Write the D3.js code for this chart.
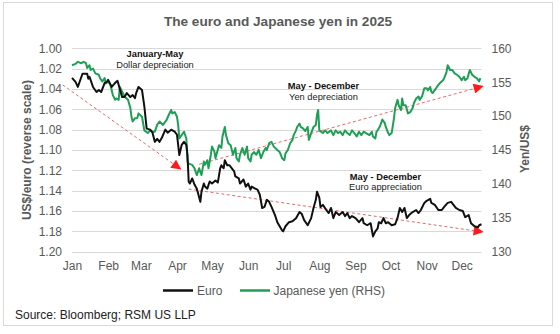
<!DOCTYPE html>
<html><head><meta charset="utf-8">
<script src="https://cdn.jsdelivr.net/npm/d3@7"></script>
<style>
html,body{margin:0;padding:0;background:#fff;}
svg{display:block;font-family:"Liberation Sans",Arial,sans-serif;}
</style></head>
<body><svg id="c" width="560" height="334"></svg>
<script>
const title = "The euro and Japanese yen in 2025";
const monthLabels = ["Jan","Feb","Mar","Apr","May","Jun","Jul","Aug","Sep","Oct","Nov","Dec"];
const leftTicks = [1.00,1.02,1.04,1.06,1.08,1.10,1.12,1.14,1.16,1.18,1.20];
const rightTicks = [160,155,150,145,140,135,130];

const euroDates = ["01-01","01-04","01-06","01-10","01-14","01-15","01-16","01-19","01-22","01-24","01-26","01-29","01-31",
"02-01","02-04","02-07","02-09","02-13","02-15","02-17","02-20","02-22","02-24","02-25","02-27",
"03-02","03-04","03-06","03-09","03-11","03-13","03-15","03-17","03-19","03-22","03-24","03-27","03-30",
"04-01","04-03","04-05","04-07","04-09","04-10","04-11","04-12","04-14","04-16","04-18","04-21","04-22","04-24","04-25","04-27","04-29",
"05-01","05-04","05-06","05-08","05-09","05-11","05-12","05-14","05-16","05-18","05-20","05-21","05-24","05-25","05-28","05-30",
"06-01","06-03","06-04","06-07","06-09","06-11","06-13","06-15","06-17","06-19","06-21","06-24","06-26","06-28","06-30",
"07-01","07-03","07-06","07-09","07-12","07-15","07-17","07-19","07-22","07-25","07-27","07-29","07-30",
"08-01","08-02","08-04","08-07","08-09","08-11","08-13","08-15","08-18","08-21","08-23","08-25","08-27","08-29",
"09-01","09-04","09-07","09-08","09-11","09-14","09-16","09-18","09-20","09-21","09-23","09-25","09-27","09-29",
"10-02","10-05","10-07","10-09","10-11","10-13","10-15","10-17","10-20","10-23","10-25","10-27","10-30",
"11-01","11-04","11-05","11-08","11-11","11-14","11-16","11-19","11-22","11-24","11-26","11-29",
"12-02","12-04","12-07","12-09","12-12","12-15","12-16","12-18"];
const euroValues = [1.029,1.033,1.038,1.025,1.025,1.030,1.028,1.038,1.043,1.041,1.043,1.034,1.033,
1.031,1.038,1.034,1.032,1.048,1.048,1.044,1.048,1.046,1.049,1.044,1.038,
1.041,1.057,1.079,1.080,1.083,1.092,1.089,1.092,1.088,1.080,1.083,1.080,1.082,
1.085,1.105,1.095,1.092,1.095,1.105,1.131,1.133,1.128,1.134,1.138,1.151,1.141,1.133,1.136,1.138,1.131,
1.133,1.130,1.132,1.118,1.115,1.118,1.110,1.115,1.115,1.118,1.121,1.126,1.128,1.133,1.129,1.136,
1.133,1.139,1.136,1.138,1.139,1.144,1.157,1.156,1.149,1.151,1.156,1.164,1.171,1.175,1.179,
1.180,1.175,1.171,1.170,1.167,1.161,1.163,1.169,1.174,1.167,1.157,1.149,1.141,
1.147,1.156,1.154,1.159,1.162,1.157,1.167,1.161,1.164,1.161,1.165,1.162,1.167,1.165,
1.167,1.171,1.167,1.172,1.174,1.172,1.185,1.180,1.177,1.171,1.172,1.167,1.172,1.171,
1.174,1.173,1.167,1.157,1.161,1.157,1.167,1.164,1.161,1.159,1.162,1.159,1.152,
1.150,1.148,1.152,1.154,1.159,1.159,1.156,1.152,1.151,1.154,1.157,1.159,
1.160,1.166,1.164,1.172,1.175,1.176,1.174,1.173];

const yenDates = ["01-01","01-04","01-06","01-09","01-11","01-13","01-14","01-16","01-17","01-19","01-21","01-24","01-25","01-27","01-29","01-30",
"02-01","02-03","02-05","02-07","02-08","02-10","02-11","02-13","02-15","02-18","02-20","02-21","02-22","02-24","02-26","02-27",
"03-02","03-04","03-07","03-09","03-11","03-13","03-15","03-17","03-20","03-23","03-25","03-27","03-28","03-30",
"04-01","04-02","04-03","04-05","04-07","04-09","04-10","04-11","04-14","04-16","04-18","04-20","04-22","04-24","04-25","04-27","04-28","04-30",
"05-01","05-03","05-04","05-07","05-09","05-10","05-12","05-13","05-15","05-17","05-19","05-21","05-22","05-24","05-25","05-27","05-29","05-31",
"06-01","06-03","06-04","06-06","06-08","06-10","06-12","06-14","06-16","06-17","06-19","06-21","06-23","06-26","06-28","06-29","06-30",
"07-02","07-03","07-05","07-07","07-09","07-10","07-12","07-13","07-15","07-16","07-18","07-20","07-22","07-23","07-25","07-27","07-29","07-30","07-31",
"08-01","08-04","08-06","08-08","08-11","08-13","08-15","08-17","08-19","08-21","08-23","08-25","08-27","08-29","08-31",
"09-02","09-04","09-06","09-08","09-10","09-13","09-15","09-16","09-18","09-19","09-20","09-22","09-24","09-26","09-27","09-29","09-30",
"10-02","10-04","10-05","10-07","10-08","10-10","10-11","10-12","10-14","10-16","10-18","10-20","10-21","10-23","10-25","10-26","10-28","10-30",
"11-01","11-02","11-04","11-05","11-06","11-09","11-11","11-12","11-15","11-16","11-18","11-19","11-20","11-21","11-23","11-25","11-27","11-29",
"12-01","12-03","12-04","12-06","12-08","12-10","12-12","12-14","12-16","12-17"];
const yenValues = [157.5,157.7,158.0,157.8,158.0,157.8,157.1,157.5,156.8,157.0,156.3,156.1,155.6,155.1,155.6,154.8,
155.1,154.6,153.1,152.4,152.6,152.4,154.3,153.6,152.9,152.4,151.2,149.9,149.2,149.7,149.7,150.4,
149.9,147.9,147.5,147.9,147.7,147.7,148.7,149.2,148.7,149.4,150.2,150.9,150.4,150.6,
149.9,148.7,146.7,147.2,147.7,146.7,143.3,143.0,142.8,142.3,141.3,142.3,141.3,143.3,142.8,143.5,142.3,144.3,
145.5,144.8,143.8,145.7,145.3,147.0,148.4,147.2,146.0,145.7,144.3,145.3,143.8,143.3,144.3,145.3,144.3,145.5,
143.8,143.3,144.3,144.7,144.3,145.0,143.8,144.7,145.3,145.0,146.0,146.2,145.5,145.0,144.7,144.3,143.8,
143.5,144.5,145.0,146.0,146.5,147.2,147.9,148.4,148.9,148.4,148.2,147.8,148.4,146.5,147.5,148.4,148.7,150.2,150.9,
147.9,147.5,147.9,147.5,147.9,147.2,147.9,147.5,147.7,147.2,147.9,147.5,147.2,147.9,147.5,
147.0,147.7,147.2,147.7,147.5,147.2,147.7,147.0,146.7,147.7,147.9,148.5,149.5,149.0,148.4,147.5,147.2,
147.5,149.7,151.2,152.4,151.6,150.9,152.6,151.6,151.6,150.4,150.6,151.2,151.9,152.6,152.9,152.4,152.9,154.1,
154.1,153.8,154.3,153.6,153.4,154.1,154.6,154.8,155.3,155.6,156.5,157.5,157.2,156.8,156.8,156.3,156.1,155.8,
155.3,155.8,155.3,155.6,156.8,156.1,155.8,155.6,155.1,155.6];

// trend annotation arrows: [start date, start value, end date, end value]
const arrowEuroJanMay = ["2024-12-24", 1.036, "2025-04-04", 1.1187];
const arrowYenMayDec = ["2025-04-20", 142.9, "2025-12-19", 154.4];
const arrowEuroMayDec = ["2025-04-11", 1.1384, "2025-12-19", 1.1806];

const legendItems = ["Euro","Japanese yen (RHS)"];
const sourceText = "Source: Bloomberg; RSM US LLP";

const parse = d3.timeParse("%Y-%m-%d");
const euro = euroDates.map((d,i)=>({date:parse("2025-"+d), v:euroValues[i]}));
const yen = yenDates.map((d,i)=>({date:parse("2025-"+d), v:yenValues[i]}));

const svg = d3.select("#c");
const gray = "#595959";
const euroColor = "#111111";
const yenColor = "#1f9f55";
const red = "#ff1a1a";

svg.append("rect").attr("x",3.5).attr("y",2.5).attr("width",549).attr("height",323)
  .attr("fill","#fff").attr("stroke","#d9d9d9").attr("stroke-width",1);

const x = d3.scaleTime().domain([parse("2025-01-01"), parse("2025-12-18")]).range([72, 481.5]);
const yL = d3.scaleLinear().domain([1.00, 1.20]).range([48.3, 251.7]);
const yR = d3.scaleLinear().domain([160, 130]).range([48.3, 251.7]);

svg.append("text").attr("x",278).attr("y",26).attr("text-anchor","middle")
  .attr("font-size",13.6).attr("font-weight","bold").attr("fill",gray).text(title);

// gridlines
svg.append("g").selectAll("line").data(leftTicks).join("line")
  .attr("x1",72).attr("x2",481.5)
  .attr("y1",d=>Math.round(yL(d))+0.5).attr("y2",d=>Math.round(yL(d))+0.5)
  .attr("stroke","#d9d9d9").attr("stroke-width",1);

// left axis
const gL = svg.append("g").attr("transform","translate(72,0)")
  .call(d3.axisLeft(yL).tickValues(leftTicks).tickFormat(d3.format(".2f")).tickSize(0).tickPadding(10));
gL.select(".domain").remove();
gL.selectAll("text").attr("font-size",12).attr("fill",gray).attr("font-family","Liberation Sans, Arial, sans-serif");

// right axis
const gR = svg.append("g").attr("transform","translate(481.5,0)")
  .call(d3.axisRight(yR).tickValues(rightTicks).tickSize(0).tickPadding(10));
gR.select(".domain").remove();
gR.selectAll("text").attr("font-size",12).attr("fill",gray).attr("font-family","Liberation Sans, Arial, sans-serif");

// x axis
const monthStarts = monthLabels.map((m,i)=>new Date(2025,i,1));
const gX = svg.append("g").attr("transform","translate(0,251.7)")
  .call(d3.axisBottom(x).tickValues(monthStarts).tickFormat((d,i)=>monthLabels[i]).tickSize(0).tickPadding(10));
gX.select(".domain").remove();
gX.selectAll("text").attr("font-size",12).attr("fill",gray).attr("font-family","Liberation Sans, Arial, sans-serif");

// axis titles
svg.append("text").attr("transform","translate(31,150) rotate(-90)").attr("text-anchor","middle")
  .attr("font-size",12).attr("font-weight","bold").attr("fill",gray).text("US$/euro (reverse scale)");
svg.append("text").attr("transform","translate(529,149) rotate(-90)").attr("text-anchor","middle")
  .attr("font-size",12).attr("font-weight","bold").attr("fill",gray).text("Yen/US$");

// arrow marker
const defs = svg.append("defs");
defs.append("marker").attr("id","tri").attr("markerUnits","userSpaceOnUse")
  .attr("viewBox","0 0 10 10").attr("refX",9).attr("refY",5)
  .attr("markerWidth",11).attr("markerHeight",10).attr("orient","auto")
  .append("path").attr("d","M0,0 L10,5 L0,10 Z").attr("fill",red);

function arrow(a, scale){
  svg.append("line")
    .attr("x1",x(parse(a[0]))).attr("y1",scale(a[1]))
    .attr("x2",x(parse(a[2]))).attr("y2",scale(a[3]))
    .attr("stroke","#e86a6a").attr("stroke-width",1).attr("stroke-dasharray","3,2.5")
    .attr("marker-end","url(#tri)");
}
arrow(arrowEuroJanMay, yL);
arrow(arrowYenMayDec, yR);
arrow(arrowEuroMayDec, yL);

// lines
const lineL = d3.line().x(d=>x(d.date)).y(d=>yL(d.v));
const lineR = d3.line().x(d=>x(d.date)).y(d=>yR(d.v));
svg.append("path").datum(yen).attr("d",lineR).attr("fill","none")
  .attr("stroke",yenColor).attr("stroke-width",2).attr("stroke-linejoin","round");
svg.append("path").datum(euro).attr("d",lineL).attr("fill","none")
  .attr("stroke",euroColor).attr("stroke-width",2).attr("stroke-linejoin","round");

// annotations
function note(cx, y1, bold, normal){
  svg.append("text").attr("x",cx).attr("y",y1).attr("text-anchor","middle")
    .attr("font-size",9.3).attr("font-weight","bold").attr("fill","#111").text(bold);
  svg.append("text").attr("x",cx).attr("y",y1+10.5).attr("text-anchor","middle")
    .attr("font-size",9.3).attr("fill","#222").text(normal);
}
note(155, 57, "January-May", "Dollar depreciation");
note(323.5, 89, "May - December", "Yen depreciation");
note(385.5, 179.5, "May - December", "Euro appreciation");

// legend
const lg = svg.append("g");
lg.append("line").attr("x1",163).attr("x2",193).attr("y1",290.5).attr("y2",290.5)
  .attr("stroke",euroColor).attr("stroke-width",2.5);
lg.append("text").attr("x",197).attr("y",295).attr("font-size",12).attr("fill",gray).text(legendItems[0]);
lg.append("line").attr("x1",240).attr("x2",270).attr("y1",290.5).attr("y2",290.5)
  .attr("stroke",yenColor).attr("stroke-width",2.5);
lg.append("text").attr("x",273.5).attr("y",295).attr("font-size",12).attr("fill",gray).text(legendItems[1]);

svg.append("text").attr("x",15).attr("y",319).attr("font-size",12).attr("fill","#222").text(sourceText);
</script></body></html>
